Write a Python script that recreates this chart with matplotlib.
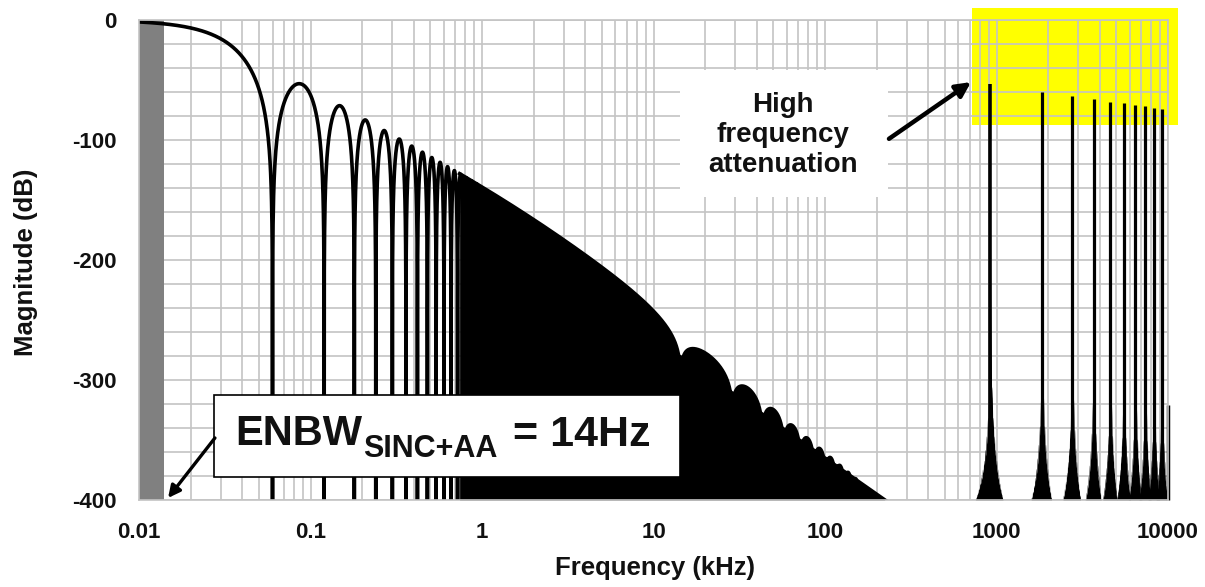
import numpy as np
import matplotlib
matplotlib.use('Agg')
import matplotlib.pyplot as plt
from matplotlib.patches import Rectangle
from matplotlib.ticker import LogLocator, MultipleLocator, NullFormatter

plt.rcParams['font.family'] = ['Liberation Sans', 'DejaVu Sans']
plt.rcParams['font.weight'] = 'bold'
plt.rcParams['axes.unicode_minus'] = False

# --- values ---
sinc4_notch_khz = 0.06     # first notch of the sinc4 stage (60 Hz)
sinc4_order = 4
sinc1_notch_khz = 14.4     # notches of the sinc1 stage (bumps past 10 kHz)
sinc1_floor = 0.028        # how deep those notches show
aa_corner_khz = 1.5        # RC anti-alias corner
alias_khz = [921.6, 1843.2, 2764.8, 3686.4, 4608.0, 5529.6, 6451.2, 7372.8, 8294.4, 9216.0]
alias_peak_db = [-53, -60, -63, -66, -68, -69.5, -71, -72, -73, -74]
edge_khz = 10000
edge_db = -321
enbw_khz = 0.014

x_ticks = [0.01, 0.1, 1, 10, 100, 1000, 10000]
x_tick_labels = ['0.01', '0.1', '1', '10', '100', '1000', '10000']
y_ticks = [0, -100, -200, -300, -400]
floor_db = -400
txt = '#111111'


def sinc4_db(x):
    return 20 * sinc4_order * np.log10(np.maximum(np.abs(np.sinc(x)), 1e-30))


def sinc4_env_db(f):
    return -20 * sinc4_order * np.log10(np.maximum(np.pi * f / sinc4_notch_khz, 1))


def sinc1_db(f):
    return 20 * np.log10(np.maximum(np.abs(np.sinc(f / sinc1_notch_khz)), sinc1_floor))


def aa_db(f):
    return -10 * np.log10(1 + (f / aa_corner_khz) ** 2)


fig = plt.figure(figsize=(12.05, 5.87), dpi=100)
ax = fig.add_axes([0.1154, 0.1482, 0.8539, 0.8177])
ax.set_xscale('log')
ax.set_xlim(0.01, 10000)
ax.set_ylim(-400, 0)

# grid
ax.set_axisbelow(True)
ax.set_xticks(x_ticks)
ax.set_xticklabels(x_tick_labels)
ax.xaxis.set_minor_locator(LogLocator(base=10, subs=np.arange(2, 10), numticks=30))
ax.xaxis.set_minor_formatter(NullFormatter())
ax.set_yticks(y_ticks)
ax.yaxis.set_minor_locator(MultipleLocator(20))
ax.grid(which='both', color='#c4c4c4', lw=1.2)
ax.tick_params(which='both', length=0)
ax.tick_params(axis='x', pad=16, labelsize=16, labelcolor=txt)
ax.tick_params(axis='y', pad=16, labelsize=16, labelcolor=txt)
for s in ax.spines.values():
    s.set_color('#c4c4c4')
    s.set_linewidth(1.2)

# highlighted zone and ENBW band
ax.add_patch(Rectangle((720, -87.5), 11440 - 720, 97.5, facecolor='#ffff00',
                       edgecolor='none', zorder=0.2, clip_on=False))
ax.axvspan(0.01, enbw_khz, color='#808080', lw=0, zorder=1.5)

# baseband lobes (resolved part)
k = np.arange(0, 16)
t = np.linspace(0, 1, 400)
x = (k[:, None] + t[None, :]).ravel()
x = x[x >= 0.01 / sinc4_notch_khz]
f_lobes = x * sinc4_notch_khz
y_lobes = sinc4_db(x) + sinc1_db(f_lobes) + aa_db(f_lobes)
ax.plot(f_lobes, np.maximum(y_lobes, floor_db - 30), color='black', lw=2.6, zorder=2)

# dense part: lobes merge into solid black
f_env = np.logspace(np.log10(0.74), np.log10(400), 8000)
y_env = sinc4_env_db(f_env) + sinc1_db(f_env) + aa_db(f_env)
ax.fill_between(f_env, floor_db, np.maximum(y_env, floor_db), color='black', lw=0, zorder=2)
ax.plot(f_env, np.maximum(y_env, floor_db - 30), color='black', lw=2.6, zorder=2)

# aliases around multiples of the modulator clock
d = np.logspace(-2.5, np.log10(900), 1500)
for i, (fk, pk) in enumerate(zip(alias_khz, alias_peak_db)):
    shape = sinc4_env_db(d / (i + 1) ** 0.85) + sinc1_db(d / (i + 1) ** 0.85)
    keep = d < fk * 0.5
    dd, ss = d[keep], shape[keep]
    fx = np.concatenate([fk - dd[::-1], fk + dd])
    fy = np.concatenate([ss[::-1], ss]) + pk
    ax.fill_between(fx, floor_db, np.maximum(fy, floor_db), color='black', lw=0, zorder=2)
    ax.plot([fk, fk], [floor_db, pk], color='black', lw=2.6 if i == 0 else 2.3,
            solid_capstyle='butt', zorder=2)
ax.plot([edge_khz, edge_khz], [floor_db, edge_db], color='black', lw=2.5,
        solid_capstyle='butt', clip_on=False, zorder=2)

# "High frequency attenuation" callout
ax.add_patch(Rectangle((14.3, -147.5), 233 - 14.3, 105.8, facecolor='white',
                       edgecolor='none', zorder=1))
ax.text(56.9, -95.5, 'High\nfrequency\nattenuation', ha='center', va='center',
        fontsize=20, fontweight='bold', color=txt, linespacing=1.2, zorder=3)
ax.annotate('', xy=(710, -51.7), xytext=(236, -99),
            arrowprops=dict(arrowstyle='-|>', lw=3.2, color='black', mutation_scale=22,
                            shrinkA=0, shrinkB=0), zorder=3)

# ENBW callout
ax.add_patch(Rectangle((0.0274, -380.8), 14.28 - 0.0274, 68.3, facecolor='white',
                       edgecolor='black', lw=1.2, zorder=4))
t1 = ax.text(0.0363, -354.2, 'ENBW', fontsize=30, fontweight='bold', color=txt,
             va='baseline', ha='left', zorder=5)
t2 = ax.annotate('SINC+AA', xy=(1, 0), xycoords=t1, xytext=(1, -2.2),
                 textcoords='offset points', fontsize=22, fontweight='bold', color=txt,
                 va='baseline', ha='left', zorder=5)
ax.annotate(' = 14Hz', xy=(1, 0), xycoords=t2, xytext=(2, 13.3),
            textcoords='offset points', fontsize=31, fontweight='bold', color=txt,
            va='baseline', ha='left', zorder=5)
ax.annotate('', xy=(0.01476, -398.3), xytext=(0.0277, -348.3),
            arrowprops=dict(arrowstyle='-|>', lw=2.4, color='black', mutation_scale=18,
                            shrinkA=0, shrinkB=0), zorder=5)

ax.set_xlabel('Frequency (kHz)', fontsize=18.5, fontweight='bold', color=txt)
ax.set_ylabel('Magnitude (dB)', fontsize=18.5, fontweight='bold', color=txt)
ax.xaxis.set_label_coords(0.501, -0.117)
ax.yaxis.set_label_coords(-0.098, 0.495)

fig.savefig('out.png', dpi=100)
